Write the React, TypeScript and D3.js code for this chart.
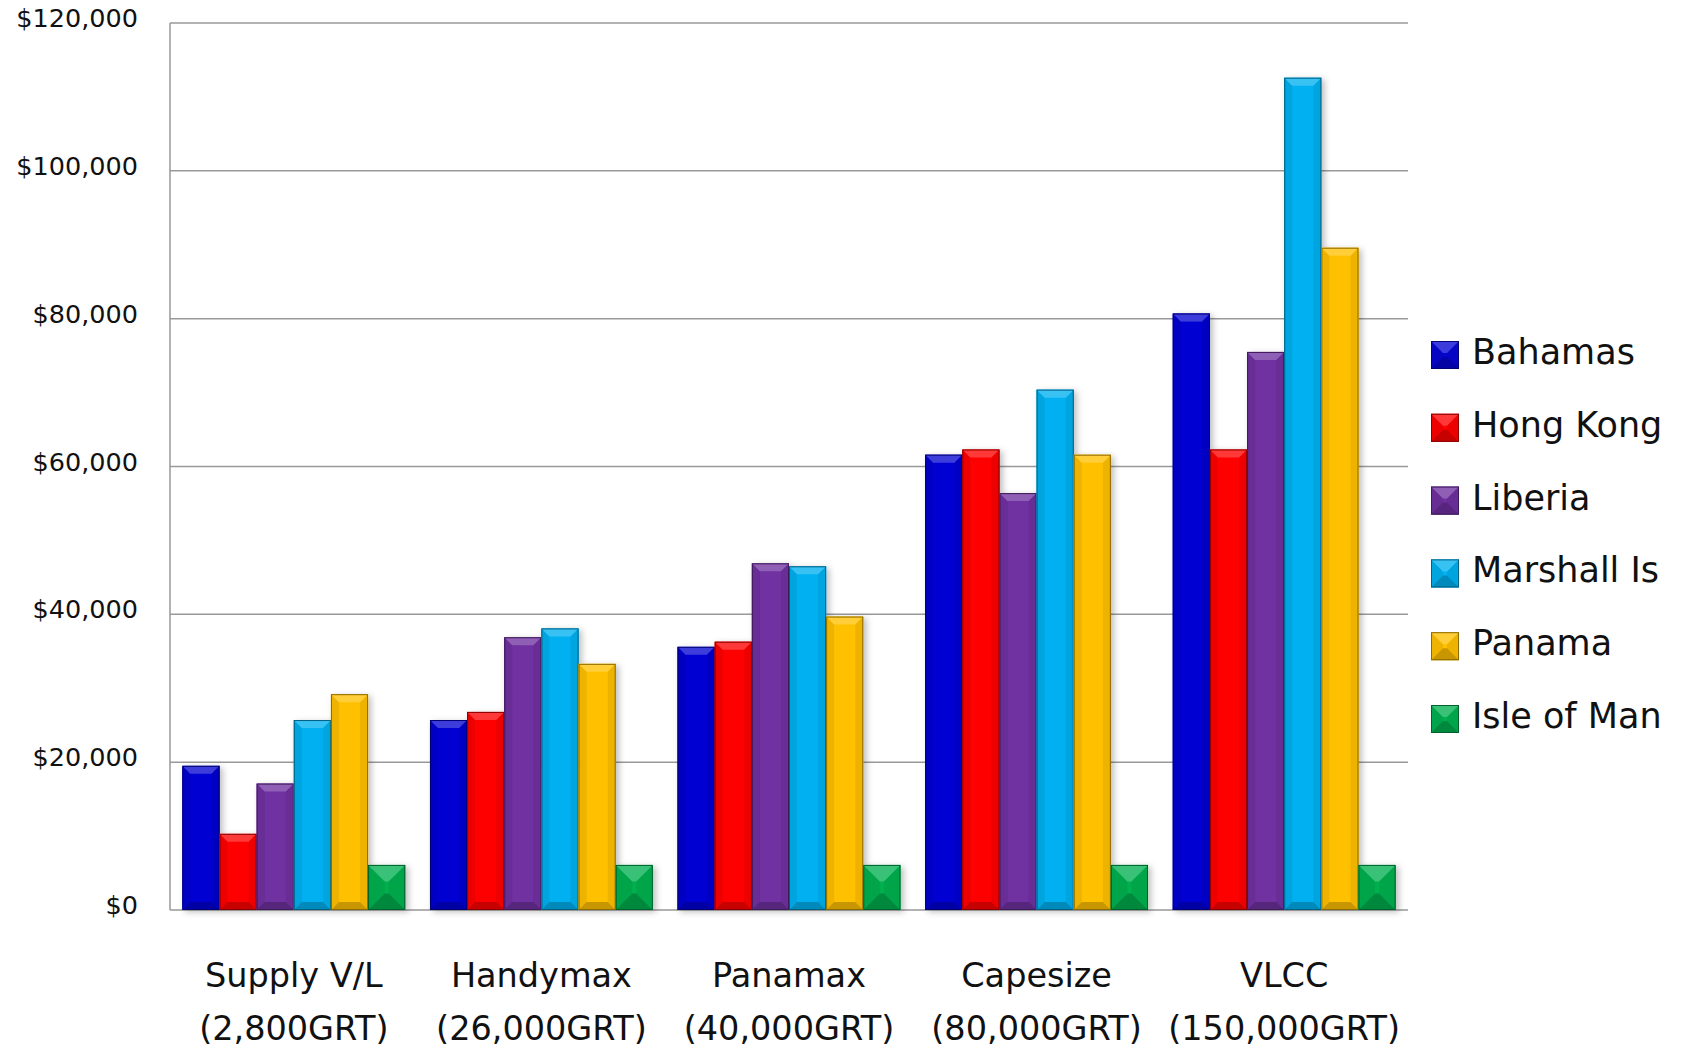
import React, { useRef, useEffect } from 'react';
import * as d3 from 'd3';

const categories = ['Supply V/L|(2,800GRT)', 'Handymax|(26,000GRT)', 'Panamax|(40,000GRT)', 'Capesize|(80,000GRT)', 'VLCC|(150,000GRT)'];
const seriesNames = ['Bahamas', 'Hong Kong', 'Liberia', 'Marshall Is', 'Panama', 'Isle of Man'];
const seriesColors = ['#0505d2', '#ff0000', '#7030a0', '#00b0f0', '#ffc000', '#00b050'];

const bahamas = [19500, 25700, 35600, 61600, 80700];
const hongKong = [10300, 26800, 36300, 62300, 62300];
const liberia = [17100, 36900, 46900, 56400, 75500];
const marshallIs = [25700, 38100, 46500, 70400, 112600];
const panama = [29200, 33300, 39700, 61600, 89600];
const isleOfMan = [6100, 6100, 6100, 6100, 6100];

const yTicks = [0, 20000, 40000, 60000, 80000, 100000, 120000];

const W = 1684;
const H = 1049;

const App: React.FC = () => {
  const svgRef = useRef<SVGSVGElement>(null);

  useEffect(() => {
    const svg = d3.select(svgRef.current);
    svg.selectAll('*').remove();

    const left = 170, right = 1408, top = 23, bottom = 910;
    const series = [bahamas, hongKong, liberia, marshallIs, panama, isleOfMan];

    const x0 = d3.scaleBand<number>().domain(d3.range(categories.length)).range([left, right]).paddingInner(0.1).paddingOuter(0.05);
    const x1 = d3.scaleBand<number>().domain(d3.range(series.length)).range([0, x0.bandwidth()]);
    const y = d3.scaleLinear().domain([0, 120000]).range([bottom, top]);

    const defs = svg.append('defs');
    const f = defs.append('filter').attr('id', 'shadow').attr('x', '-20%').attr('y', '-20%').attr('width', '150%').attr('height', '150%');
    f.append('feDropShadow').attr('dx', 3).attr('dy', 2).attr('stdDeviation', 3).attr('flood-color', '#000').attr('flood-opacity', 0.25);

    // gridlines
    svg.append('g')
      .selectAll('line')
      .data(yTicks)
      .enter()
      .append('line')
      .attr('x1', left).attr('x2', right)
      .attr('y1', d => y(d)).attr('y2', d => y(d))
      .attr('stroke', '#999').attr('stroke-width', 1.5);

    svg.append('line')
      .attr('x1', left).attr('x2', left).attr('y1', top).attr('y2', bottom)
      .attr('stroke', '#999').attr('stroke-width', 1.5);

    // y labels
    svg.append('g')
      .selectAll('text')
      .data(yTicks)
      .enter()
      .append('text')
      .attr('x', 138)
      .attr('y', d => y(d) + 4)
      .attr('text-anchor', 'end')
      .attr('font-family', 'DejaVu Sans')
      .attr('font-size', 25.5)
      .attr('fill', '#111')
      .text(d => '$' + d3.format(',')(d));

    const drawBevel = (g: any, x: number, yy: number, w: number, h: number, color: string, b: number) => {
      const light = d3.interpolateRgb(color, '#fff')(0.22);
      const dark = d3.interpolateRgb(color, '#000')(0.22);
      const side = d3.interpolateRgb(color, '#000')(0.07);
      const pts = (arr: number[][]) => arr.map(p => p.join(',')).join(' ');
      g.append('rect').attr('x', x).attr('y', yy).attr('width', w).attr('height', h).attr('fill', color);
      g.append('polygon').attr('points', pts([[x, yy], [x + b, yy + b], [x + b, yy + h - b], [x, yy + h]])).attr('fill', side);
      g.append('polygon').attr('points', pts([[x + w, yy], [x + w - b, yy + b], [x + w - b, yy + h - b], [x + w, yy + h]])).attr('fill', side);
      g.append('polygon').attr('points', pts([[x, yy], [x + w, yy], [x + w - b, yy + b], [x + b, yy + b]])).attr('fill', light);
      g.append('polygon').attr('points', pts([[x, yy + h], [x + w, yy + h], [x + w - b, yy + h - b], [x + b, yy + h - b]])).attr('fill', dark);
      g.append('rect').attr('x', x + 0.5).attr('y', yy + 0.5).attr('width', w - 1).attr('height', Math.max(0, h - 1))
        .attr('fill', 'none').attr('stroke', d3.interpolateRgb(color, '#000')(0.45)).attr('stroke-width', 1);
    };

    const barsG = svg.append('g').attr('filter', 'url(#shadow)');
    categories.forEach((_, ci) => {
      series.forEach((vals, si) => {
        const bx = (x0(ci) as number) + (x1(si) as number);
        const bw = x1.bandwidth();
        const by = y(vals[ci]);
        const bh = y(0) - by;
        const b = bh < 60 ? Math.min(bw, bh) / 2 - 2 : 8;
        drawBevel(barsG.append('g'), bx, by, bw, bh, seriesColors[si], b);
      });
    });

    // x labels
    const xl = svg.append('g')
      .selectAll('text')
      .data(categories)
      .enter()
      .append('text')
      .attr('text-anchor', 'middle')
      .attr('font-family', 'DejaVu Sans')
      .attr('font-size', 33.5)
      .attr('fill', '#111');
    xl.append('tspan').attr('x', (_: any, i: number) => (x0(i) as number) + x0.bandwidth() / 2).attr('y', 987).text((d: string) => d.split('|')[0]);
    xl.append('tspan').attr('x', (_: any, i: number) => (x0(i) as number) + x0.bandwidth() / 2).attr('y', 1040).text((d: string) => d.split('|')[1]);

    // legend
    const lg = svg.append('g');
    seriesNames.forEach((name, i) => {
      const ly = 341 + i * 72.8;
      drawBevel(lg.append('g'), 1431, ly, 28, 28, seriesColors[i], 12);
      lg.append('text')
        .attr('x', 1472)
        .attr('y', ly + 23)
        .attr('font-family', 'DejaVu Sans')
        .attr('font-size', 35)
        .attr('fill', '#111')
        .text(name);
    });
  }, []);

  return <svg ref={svgRef} width={W} height={H} style={{ position: 'absolute', left: 0, top: 0, background: '#fff' }} />;
};

export default App;
